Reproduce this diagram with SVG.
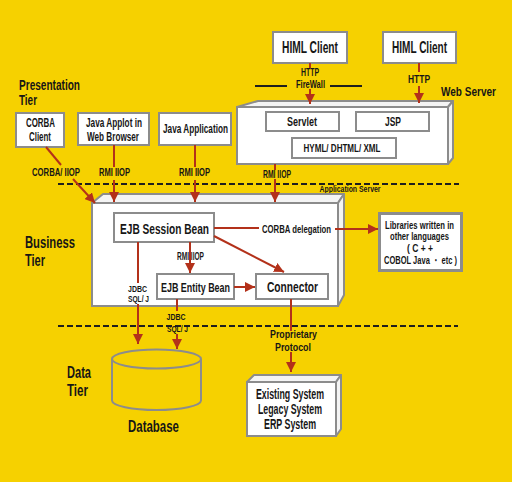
<svg xmlns="http://www.w3.org/2000/svg" width="512" height="482" viewBox="0 0 512 482">
<defs>
<style>
text{font-family:"Liberation Sans",Arial,sans-serif;font-weight:bold;fill:#161616;text-anchor:middle}
.st{text-anchor:start}
.box{fill:#fff;stroke:#8c8c8c;stroke-width:2}
.face{fill:#f4f4f4;stroke:#8c8c8c;stroke-width:2;stroke-linejoin:round}
.ln{stroke:#b3311a;stroke-width:2;fill:none}
.ar{stroke:#b3311a;stroke-width:2;fill:none;marker-end:url(#ah)}
.dash{stroke:#1e1e1e;stroke-width:2;stroke-dasharray:6 3;fill:none}
</style>
<marker id="ah" markerUnits="userSpaceOnUse" markerWidth="10" markerHeight="10" refX="10" refY="5" orient="auto">
<path d="M0,0 L10,5 L0,10 z" fill="#b3311a"/>
</marker>
</defs>
<rect width="512" height="482" fill="#f6d100"/>

<!-- tier labels -->
<g id="tier-labels">
<text class="st" x="19" y="90" font-size="14" textLength="61" lengthAdjust="spacingAndGlyphs">Presentation</text>
<text class="st" x="19" y="105" font-size="14" textLength="18" lengthAdjust="spacingAndGlyphs">Tier</text>
<text class="st" x="25" y="248" font-size="16" textLength="50" lengthAdjust="spacingAndGlyphs">Business</text>
<text class="st" x="25" y="266" font-size="16" textLength="20" lengthAdjust="spacingAndGlyphs">Tier</text>
<text class="st" x="67" y="378" font-size="16.5" textLength="24" lengthAdjust="spacingAndGlyphs">Data</text>
<text class="st" x="67" y="396" font-size="16.5" textLength="21" lengthAdjust="spacingAndGlyphs">Tier</text>
<text class="st" x="441" y="96" font-size="12.5" textLength="55" lengthAdjust="spacingAndGlyphs">Web Server</text>
<text x="350" y="192" font-size="9" textLength="61" lengthAdjust="spacingAndGlyphs">Application Server</text>
</g>

<!-- separators -->
<g id="separators">
<line class="dash" x1="58" y1="184" x2="459" y2="184"/>
<line class="dash" x1="58" y1="326" x2="458" y2="326"/>
<line x1="255" y1="86" x2="287" y2="86" stroke="#1e1e1e" stroke-width="2"/>
<line x1="330" y1="86" x2="362" y2="86" stroke="#1e1e1e" stroke-width="2"/>
</g>

<g id="html-client-1">
<rect class="box" x="273" y="32" width="74" height="31"/>
<text x="310" y="53" font-size="16" textLength="56" lengthAdjust="spacingAndGlyphs">HIML Client</text>
</g>
<g id="html-client-2">
<rect class="box" x="383" y="32" width="73" height="31"/>
<text x="419.5" y="53" font-size="16" textLength="55" lengthAdjust="spacingAndGlyphs">HIML Client</text>
</g>

<g id="web-server">
<polygon class="face" points="237,107 258,101 453,101 448,107"/>
<polygon class="face" points="448,107 453,101 453,158 448,164"/>
<rect class="box" x="237" y="107" width="211" height="57"/>
<rect class="box" x="266" y="112" width="73" height="19"/>
<text x="302" y="126" font-size="13" textLength="30" lengthAdjust="spacingAndGlyphs">Servlet</text>
<rect class="box" x="356" y="112" width="73" height="19"/>
<text x="393" y="126" font-size="13" textLength="16" lengthAdjust="spacingAndGlyphs">JSP</text>
<rect class="box" x="292" y="138" width="104" height="20"/>
<text x="342" y="152" font-size="11" textLength="77" lengthAdjust="spacingAndGlyphs">HYML/ DHTML/ XML</text>
</g>

<g id="corba-client">
<rect class="box" x="16" y="113" width="48" height="34"/>
<text x="40.5" y="127" font-size="12" textLength="29" lengthAdjust="spacingAndGlyphs">CORBA</text>
<text x="40" y="141" font-size="12" textLength="22" lengthAdjust="spacingAndGlyphs">Client</text>
</g>
<g id="java-applet">
<rect class="box" x="78" y="113" width="71" height="32"/>
<text x="114" y="127" font-size="12.5" textLength="56" lengthAdjust="spacingAndGlyphs">Java Applot in</text>
<text x="113" y="141" font-size="12.5" textLength="52" lengthAdjust="spacingAndGlyphs">Web Browser</text>
</g>
<g id="java-application">
<rect class="box" x="159" y="113" width="72" height="32"/>
<text x="195.5" y="133" font-size="12.5" textLength="65" lengthAdjust="spacingAndGlyphs">Java Application</text>
</g>

<g id="application-server">
<polygon class="face" points="92,203 103,194 344,194 338,203"/>
<polygon class="face" points="338,203 344,194 344,295 338,306"/>
<rect class="box" x="92" y="203" width="246" height="103"/>
</g>

<g id="ejb-session-bean">
<rect class="box" x="114" y="213" width="100" height="29"/>
<text x="164.5" y="234" font-size="15" textLength="89" lengthAdjust="spacingAndGlyphs">EJB Session Bean</text>
</g>
<g id="ejb-entity-bean">
<rect class="box" x="157" y="274" width="77" height="25"/>
<text x="195.5" y="292" font-size="13" textLength="69" lengthAdjust="spacingAndGlyphs">EJB Entity Bean</text>
</g>
<g id="connector">
<rect class="box" x="256" y="274" width="72" height="25"/>
<text x="292.5" y="292" font-size="14" textLength="51" lengthAdjust="spacingAndGlyphs">Connector</text>
</g>

<g id="libraries">
<rect x="379.5" y="213.5" width="82" height="57" fill="#fff" stroke="#8c8c8c" stroke-width="3"/>
<text x="419.5" y="228.5" font-size="11" textLength="69" lengthAdjust="spacingAndGlyphs">Libraries written in</text>
<text x="419.5" y="240" font-size="11" textLength="59" lengthAdjust="spacingAndGlyphs">other languages</text>
<text x="420" y="252" font-size="11" textLength="26" lengthAdjust="spacingAndGlyphs">( C + +</text>
<text x="420.5" y="264" font-size="11" textLength="73" lengthAdjust="spacingAndGlyphs">COBOL Java ・ etc )</text>
</g>

<g id="database">
<path d="M112,359 L112,400.5 A44.5,9.5 0 0 0 201,400.5 L201,359" fill="none" stroke="#8c8c8c" stroke-width="2"/>
<ellipse cx="156.5" cy="359" rx="44.5" ry="9.5" fill="none" stroke="#8c8c8c" stroke-width="2"/>
<text x="153.5" y="432" font-size="17" textLength="51" lengthAdjust="spacingAndGlyphs">Database</text>
</g>

<g id="existing-system">
<polygon class="face" points="247,382 254,375 341,375 336,382"/>
<polygon class="face" points="336,382 341,375 341,429 336,436"/>
<rect class="box" x="247" y="382" width="89" height="54"/>
<text x="290" y="399" font-size="14" textLength="68" lengthAdjust="spacingAndGlyphs">Existing System</text>
<text x="290" y="414" font-size="14" textLength="64" lengthAdjust="spacingAndGlyphs">Legacy System</text>
<text x="290" y="429" font-size="14" textLength="52" lengthAdjust="spacingAndGlyphs">ERP System</text>
</g>

<g id="connectors">
<path class="ln" d="M46,147 L61,165"/>
<path class="ar" d="M73,179 L95,203"/>
<path class="ln" d="M114,145 L114,167"/>
<path class="ar" d="M114,180 L114,202"/>
<path class="ln" d="M195,145 L195,167"/>
<path class="ar" d="M195,180 L195,202"/>
<path class="ln" d="M275,164 L275,170"/>
<path class="ar" d="M275,179 L275,202"/>
<path class="ln" d="M310,63 L310,68"/>
<path class="ar" d="M310,89 L310,104"/>
<path class="ln" d="M419,63 L419,72"/>
<path class="ar" d="M419,86 L419,103"/>
<path class="ar" d="M190,242 L190,273"/>
<path class="ar" d="M214,236 L284,272"/>
<path class="ar" d="M234,287 L255,287"/>
<path class="ln" d="M214,228 L259,228"/>
<path class="ar" d="M335,229 L378,229"/>
<path class="ln" d="M138,242 L138,283"/>
<path class="ar" d="M138,304 L138,344"/>
<path class="ln" d="M177,299 L177,311"/>
<path class="ar" d="M177,334 L177,349"/>
<path class="ln" d="M291,299 L291,331"/>
<path class="ar" d="M291,352 L291,372"/>
<text x="56" y="176" font-size="11" textLength="48" lengthAdjust="spacingAndGlyphs">CORBA/ IIOP</text>
<text x="114.5" y="176" font-size="11" textLength="31" lengthAdjust="spacingAndGlyphs">RMI IIOP</text>
<text x="194.5" y="176" font-size="11" textLength="31" lengthAdjust="spacingAndGlyphs">RMI IIOP</text>
<text x="277" y="178" font-size="10" textLength="28" lengthAdjust="spacingAndGlyphs">RMI IIOP</text>
<text x="310" y="76" font-size="11" textLength="18" lengthAdjust="spacingAndGlyphs">HTTP</text>
<text x="310.5" y="88" font-size="11" textLength="29" lengthAdjust="spacingAndGlyphs">FireWall</text>
<text x="419" y="83" font-size="11.5" textLength="22" lengthAdjust="spacingAndGlyphs">HTTP</text>
<text x="190.5" y="260" font-size="10.5" textLength="27" lengthAdjust="spacingAndGlyphs">RMI IIOP</text>
<text x="296.5" y="233" font-size="11" textLength="69" lengthAdjust="spacingAndGlyphs">CORBA delegation</text>
<text x="137.5" y="292" font-size="9.5" textLength="19" lengthAdjust="spacingAndGlyphs">JDBC</text>
<text x="138.5" y="302" font-size="9.5" textLength="21" lengthAdjust="spacingAndGlyphs">SQL/ J</text>
<text x="176" y="320" font-size="9.5" textLength="19" lengthAdjust="spacingAndGlyphs">JDBC</text>
<text x="177.5" y="332" font-size="9.5" textLength="21" lengthAdjust="spacingAndGlyphs">SQL/ J</text>
<text x="293.5" y="338" font-size="11.5" textLength="47" lengthAdjust="spacingAndGlyphs">Proprietary</text>
<text x="293" y="351" font-size="11.5" textLength="36" lengthAdjust="spacingAndGlyphs">Protocol</text>
</g>
</svg>
